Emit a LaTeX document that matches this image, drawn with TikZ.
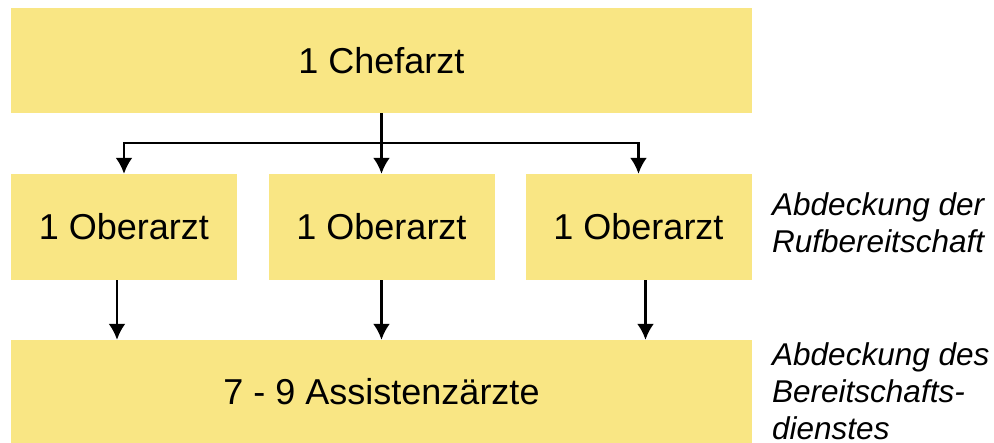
\documentclass[tikz,border=0pt]{standalone}
\usepackage{fontspec}
\setmainfont{Liberation Sans}
\usetikzlibrary{arrows.meta}
\definecolor{boxgelb}{RGB}{249,230,132}
\begin{document}
\begin{tikzpicture}[x=1pt,y=-1pt,
    box/.style={fill=boxgelb,draw=none,inner sep=0pt,minimum height=105pt,
      font=\fontsize{36}{43}\selectfont},
    pfeil/.style={line width=2.5pt,-{Latex[length=16pt,width=17pt]}},
    notiz/.style={anchor=north west,inner sep=0pt,align=left,
      font=\fontsize{31.5}{37}\selectfont\itshape}]
    \useasboundingbox (0,0) rectangle (994,443);
    % boxes
  	\node (chef) at (381.5,60.5) [box,minimum width=741pt] {1 Chefarzt};
  	\node (ob1) at (124,227) [box,minimum width=226pt,minimum height=106pt] {1 Oberarzt};
  	\node (ob2) at (381.5,227) [box,minimum width=226pt,minimum height=106pt] {1 Oberarzt};
  	\node (ob3) at (638.5,227) [box,minimum width=226pt,minimum height=106pt] {1 Oberarzt};
  	\node (ass) at (381.5,391.5) [box,minimum width=741pt,minimum height=103pt] {7 - 9 Assistenzärzte};
    % notes
  	\node (ruf) at (772,192) [notiz] {Abdeckung der\\Rufbereitschaft};
  	\node (bdst) at (772,342) [notiz] {Abdeckung des\\Bereitschafts-\\dienstes};
    % connectors
    \coordinate (gabel) at (381.5,143);
    \draw[line width=2.5pt] (chef.south) -- (gabel);
    \draw[pfeil] (gabel) -- (ob2.north);
    \draw[pfeil] (gabel) -| (ob1.north);
    \draw[pfeil] (gabel) -| (ob3.north);
    %\draw[pfeil] (ob1.south) -- (ob1.south |- ass.north);
    \draw[pfeil] ([xshift=-7pt]ob1.south) -- ([xshift=-7pt]ob1.south |- ass.north);
    \draw[pfeil] (ob2.south) -- (ob2.south |- ass.north);
    \draw[pfeil] ([xshift=7pt]ob3.south) -- ([xshift=7pt]ob3.south |- ass.north);
  \end{tikzpicture}
\end{document}
